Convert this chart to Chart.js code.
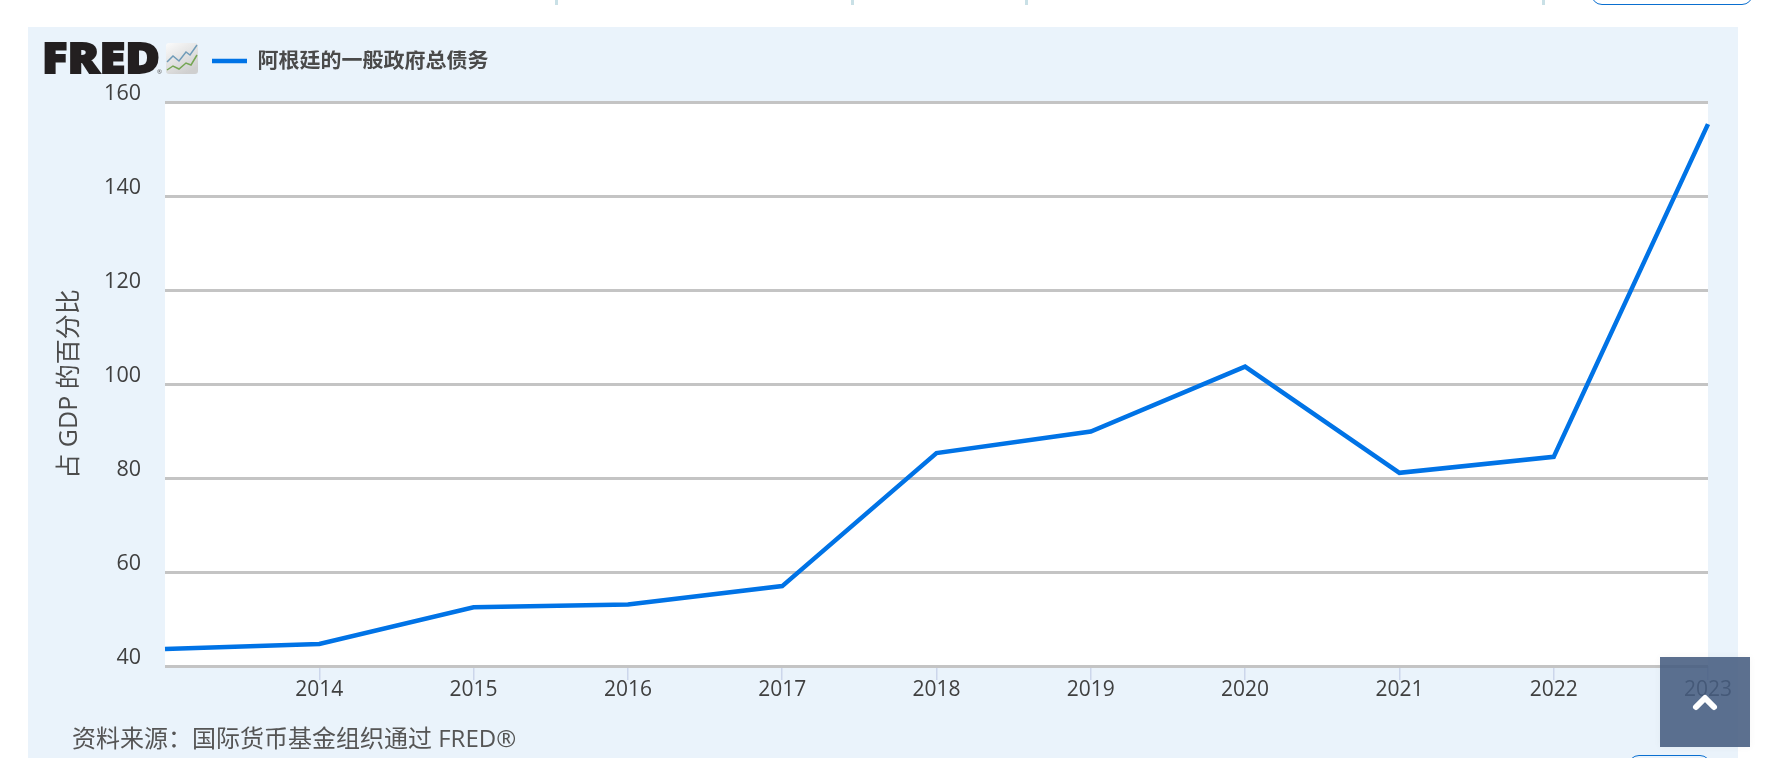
<!DOCTYPE html>
<html lang="zh">
<head>
<meta charset="utf-8">
<script src="https://cdn.jsdelivr.net/npm/chart.js@4"></script>
<style>
html,body{margin:0;padding:0;background:#fff;width:1789px;height:758px;overflow:hidden;font-family:"Open Sans","Noto Sans CJK SC",sans-serif}
#panel{position:absolute;left:28px;top:27px;width:1710px;height:731px;background:#eaf3fb}
#c{position:absolute;left:0;top:0}
.mark{position:absolute;top:0;width:3px;height:5px;background:#c9e0e6}
#topbtn{position:absolute;left:1591px;top:-30px;width:160px;height:33px;border:1px solid #0a6fd0;border-radius:11px;box-sizing:content-box}
#botbtn{position:absolute;left:1628px;top:755px;width:81px;height:30px;border:1px solid #0a6fd0;border-radius:11px}
#logo{position:absolute;left:42px;top:38px;width:160px;height:50px}
#source{position:absolute;left:72px;top:722px;font-size:24px;line-height:32px;color:#555;white-space:nowrap}
#up{position:absolute;left:1660px;top:657px;width:90px;height:90px;background:rgba(70,92,128,.88);box-shadow:0 0 8px rgba(0,0,0,.04)}
</style>
</head>
<body>
<div class="mark" style="left:555px"></div>
<div class="mark" style="left:851px"></div>
<div class="mark" style="left:1025px"></div>
<div class="mark" style="left:1542px"></div>
<div id="topbtn"></div>
<div id="panel"></div>
<canvas id="c" width="1789" height="758"></canvas>
<svg id="logo" viewBox="0 0 160 50">
  <defs><linearGradient id="g" x1="0" y1="0" x2="0.6" y2="1"><stop offset="0" stop-color="#fbfbfb"/><stop offset="1" stop-color="#cfcfcf"/></linearGradient></defs>
  <text x="0" y="35" font-family="Open Sans, Liberation Sans" font-weight="800" font-size="42" fill="#231f20" stroke="#231f20" stroke-width="1.8" textLength="118" lengthAdjust="spacingAndGlyphs">FRED</text>
  <text x="115" y="36" font-family="Open Sans" font-size="6" fill="#555">®</text>
  <rect x="124" y="5" width="32" height="31" rx="3" fill="url(#g)"/>
  <polyline points="125,24 131,18 137,23 144,14 148,17 155,7" fill="none" stroke="#6f9bb8" stroke-width="1.5"/>
  <polyline points="125,32 131,28 137,31 144,25 149,27 155,17" fill="none" stroke="#75a653" stroke-width="1.5"/>
</svg>
<div id="source">资料来源：国际货币基金组织通过 FRED®</div>
<div id="botbtn"></div>
<div id="up"><svg width="90" height="90" viewBox="0 0 90 90"><polyline points="36,50 45,41 54,50" fill="none" stroke="#fff" stroke-width="6" stroke-linecap="round" stroke-linejoin="round"/></svg></div>
<script>
const years = ['2013','2014','2015','2016','2017','2018','2019','2020','2021','2022','2023'];
const debtPctGdp = [43.6,44.7,52.5,53.1,57.0,85.3,89.9,103.7,81.1,84.5,155.3];
const seriesName = '阿根廷的一般政府总债务';
const axisTitle = '占 GDP 的百分比';
const FONT = '"Open Sans","Noto Sans CJK SC",sans-serif';

const plotBg = {
  id:'plotBg',
  beforeDraw(chart){
    const a = chart.chartArea, ctx = chart.ctx;
    ctx.save(); ctx.fillStyle='#fff';
    ctx.fillRect(a.left,a.top,a.right-a.left,a.bottom-a.top);
    ctx.restore();
  }
};
const placeLegend = {
  id:'placeLegend',
  afterLayout(chart){
    const l = chart.legend;
    const w = l.right - l.left;
    l.left = 212; l.right = 212 + w; l.top = 50.5; l.bottom = 50.5 + l.height;
  }
};

new Chart(document.getElementById('c'),{
  type:'line',
  data:{labels:years,datasets:[{
    label:seriesName,data:debtPctGdp,borderColor:'#0073e6',backgroundColor:'#0073e6',
    borderWidth:4.5,pointRadius:0,pointStyle:'line',tension:0,fill:false,borderJoinStyle:'miter'
  }]},
  plugins:[plotBg,placeLegend],
  options:{
    responsive:false,animation:false,
    layout:{padding:{left:0,right:81,top:71,bottom:0}},
    plugins:{
      tooltip:{enabled:false},
      legend:{display:true,position:'top',align:'start',
        labels:{usePointStyle:true,pointStyle:'line',pointStyleWidth:35,padding:0,color:'#4a4a4a',
          font:{family:FONT,size:21,weight:'bold'}}}
    },
    scales:{
      x:{
        type:'category',offset:false,
        afterFit(s){s.height=92;},
        border:{display:false},
        grid:{drawOnChartArea:false,drawTicks:true,tickLength:14,lineWidth:1.5,
          color:c=>c.index===0?'rgba(0,0,0,0)':'#ccd6eb'},
        ticks:{autoSkip:false,maxRotation:0,padding:-3,color:'#404040',font:{family:FONT,size:21},
          callback(v,i){return i===0?'':this.getLabelForValue(v);}}
      },
      y:{
        min:40,max:160,
        afterFit(s){s.width=165;},
        border:{display:false},
        grid:{drawTicks:false,color:'#c4c4c4',lineWidth:3},
        ticks:{stepSize:20,padding:24,labelOffset:-8.5,color:'#404040',font:{family:FONT,size:21.5}},
        title:{display:true,text:axisTitle,color:'#4c4c4c',padding:{top:55,bottom:0},font:{family:FONT,size:25}}
      }
    }
  }
});
</script>
</body>
</html>
